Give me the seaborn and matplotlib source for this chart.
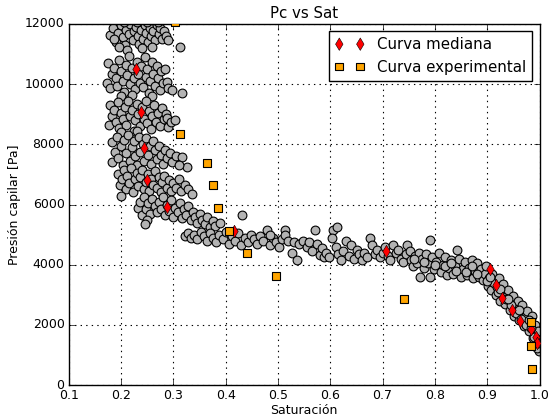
import matplotlib
matplotlib.use("Agg")
import matplotlib.pyplot as plt
import numpy as np
import pandas as pd
import seaborn as sns

# nube de puntos (saturacion, presion capilar) leida por bandas
banda_1 = [(0.178, 11620), (0.185, 11850), (0.19, 11400), (0.195, 11700), (0.2, 11950), (0.203, 11550),
           (0.208, 11300), (0.21, 11800), (0.215, 11650), (0.218, 12000), (0.222, 11450), (0.225, 11750),
           (0.228, 11900), (0.232, 11600), (0.235, 11350), (0.238, 11800), (0.242, 11500), (0.245, 11950),
           (0.248, 11700), (0.252, 11400), (0.255, 11850), (0.258, 11600), (0.262, 11750), (0.265, 11450),
           (0.268, 11950), (0.272, 11650), (0.275, 11850), (0.278, 11500), (0.282, 11750), (0.286, 11600),
           (0.29, 11450), (0.196, 11250), (0.212, 11150), (0.24, 11200), (0.26, 11250), (0.23, 12050),
           (0.25, 12050), (0.205, 12050), (0.27, 12050), (0.187, 11500), (0.313, 11245)]
banda_2 = [(0.175, 10700), (0.173, 10050), (0.179, 9870), (0.182, 10350), (0.186, 10550), (0.19, 10200),
           (0.193, 9950), (0.196, 10800), (0.2, 10450), (0.203, 10100), (0.206, 9750), (0.209, 10650),
           (0.212, 10300), (0.215, 10950), (0.218, 10000), (0.22, 10550), (0.224, 10200), (0.227, 9850),
           (0.23, 10750), (0.233, 10350), (0.236, 10050), (0.239, 10600), (0.242, 9900), (0.245, 10900),
           (0.247, 10250), (0.25, 10500), (0.253, 9700), (0.256, 10100), (0.259, 10750), (0.262, 10350),
           (0.265, 9950), (0.268, 10600), (0.271, 10200), (0.274, 9800), (0.277, 10450), (0.28, 10050),
           (0.284, 10500), (0.288, 10070), (0.29, 9870), (0.298, 9800), (0.317, 9716), (0.22, 9650),
           (0.26, 9600), (0.2, 9600)]
banda_3 = [(0.176, 8640), (0.179, 9300), (0.183, 8950), (0.187, 9150), (0.19, 8750), (0.194, 9400),
           (0.197, 8550), (0.2, 9050), (0.204, 8850), (0.207, 9250), (0.21, 8650), (0.214, 9450),
           (0.217, 8950), (0.22, 9150), (0.224, 8450), (0.227, 8800), (0.23, 9350), (0.233, 9000),
           (0.237, 8600), (0.24, 9250), (0.244, 8850), (0.247, 9450), (0.25, 8700), (0.253, 9100),
           (0.257, 8500), (0.26, 8950), (0.263, 9300), (0.267, 8750), (0.27, 9050), (0.274, 8600),
           (0.278, 9200), (0.282, 8850), (0.285, 9000), (0.288, 8870), (0.29, 8580), (0.296, 8750),
           (0.304, 8800), (0.23, 8450), (0.2, 8400)]
banda_4 = [(0.183, 8080), (0.183, 7410), (0.188, 7750), (0.192, 8250), (0.195, 7550), (0.199, 7950),
           (0.203, 7300), (0.206, 8150), (0.21, 7700), (0.213, 8300), (0.217, 7450), (0.22, 7900),
           (0.224, 8100), (0.227, 7600), (0.23, 7300), (0.234, 8250), (0.237, 7750), (0.241, 8000),
           (0.244, 7450), (0.248, 8200), (0.251, 7650), (0.255, 7950), (0.258, 7350), (0.262, 8100),
           (0.265, 7800), (0.269, 7500), (0.272, 7950), (0.276, 7650), (0.28, 7350), (0.284, 7800),
           (0.288, 7550), (0.293, 7700), (0.298, 7400), (0.305, 7600), (0.317, 7580), (0.327, 7250),
           (0.31, 7300)]
banda_5 = [(0.195, 7000), (0.198, 6650), (0.202, 6850), (0.205, 7150), (0.209, 6500), (0.212, 6950),
           (0.216, 6700), (0.219, 7200), (0.223, 6400), (0.226, 6850), (0.23, 7050), (0.233, 6600),
           (0.237, 6900), (0.24, 7150), (0.244, 6500), (0.247, 6750), (0.251, 7000), (0.254, 6450),
           (0.258, 6850), (0.261, 6650), (0.265, 7100), (0.268, 6550), (0.272, 6900), (0.276, 6400),
           (0.279, 6750), (0.283, 6950), (0.287, 6550), (0.291, 6800), (0.295, 6450), (0.3, 6700),
           (0.305, 6550), (0.31, 6850), (0.315, 6450), (0.322, 6650), (0.328, 6500), (0.335, 6350),
           (0.2, 6300)]
banda_6 = [(0.232, 5900), (0.236, 6100), (0.24, 5650), (0.244, 6250), (0.248, 5850), (0.252, 6050),
           (0.256, 5700), (0.26, 6200), (0.264, 5950), (0.268, 5750), (0.272, 6100), (0.276, 5850),
           (0.28, 6250), (0.284, 5650), (0.288, 6000), (0.292, 5800), (0.296, 6150), (0.3, 5600),
           (0.304, 5900), (0.308, 5750), (0.312, 6050), (0.316, 5550), (0.32, 5850), (0.324, 5650),
           (0.328, 5950), (0.333, 5500), (0.337, 5750), (0.342, 5600), (0.346, 5400), (0.35, 5700),
           (0.355, 5500), (0.36, 5350), (0.365, 5600), (0.37, 5250), (0.375, 5450), (0.38, 5300),
           (0.39, 5400), (0.431, 5650), (0.25, 5500), (0.245, 5350)]
meseta_1 = [(0.322, 4950), (0.328, 5050), (0.334, 4900), (0.34, 5000), (0.346, 4850), (0.352, 5100),
            (0.358, 4950), (0.364, 4800), (0.37, 5050), (0.376, 4900), (0.382, 4750), (0.388, 5000),
            (0.394, 4850), (0.4, 5100), (0.406, 4700), (0.412, 4950), (0.418, 4800), (0.424, 5050),
            (0.43, 4650), (0.436, 4900), (0.442, 4750), (0.448, 5000), (0.454, 4850), (0.46, 4700),
            (0.466, 4950), (0.472, 4800), (0.479, 5150), (0.484, 4650), (0.49, 4900), (0.496, 4750),
            (0.502, 4600), (0.508, 4850)]
meseta_2 = [(0.485, 5000), (0.514, 5150), (0.514, 5000), (0.52, 4800), (0.527, 4390), (0.53, 4750),
            (0.537, 4155), (0.54, 4700), (0.548, 4800), (0.556, 4590), (0.56, 4750), (0.565, 4450),
            (0.571, 5150), (0.575, 4700), (0.58, 4320), (0.585, 4550), (0.587, 4260), (0.592, 4400),
            (0.598, 4250), (0.605, 5150), (0.604, 4900), (0.61, 4600), (0.613, 5250), (0.615, 4350),
            (0.62, 4150), (0.625, 4450), (0.63, 4800), (0.635, 4300), (0.64, 4650), (0.645, 4200),
            (0.651, 4500), (0.655, 4350), (0.66, 4150), (0.665, 4400), (0.67, 4250), (0.676, 4900),
            (0.68, 4650), (0.685, 4350), (0.69, 4500), (0.695, 4250), (0.7, 4400), (0.705, 4600),
            (0.71, 4300), (0.715, 4150), (0.72, 4650), (0.725, 4400), (0.73, 4500), (0.735, 4200),
            (0.739, 4100), (0.747, 4650), (0.745, 4350)]
caida = [(0.752, 4450), (0.755, 4150), (0.758, 3950), (0.762, 4300), (0.766, 4050), (0.77, 4400),
         (0.772, 3590), (0.775, 4200), (0.779, 3900), (0.783, 4350), (0.787, 4050), (0.791, 3590),
         (0.791, 4820), (0.795, 4250), (0.799, 3850), (0.803, 4100), (0.807, 4400), (0.811, 3750),
         (0.815, 4000), (0.819, 4250), (0.823, 3650), (0.827, 3900), (0.831, 4150), (0.835, 3700),
         (0.839, 3950), (0.843, 4490), (0.846, 4200), (0.85, 3600), (0.854, 3850), (0.858, 4100),
         (0.862, 3650), (0.866, 3900), (0.87, 4150), (0.873, 3550), (0.877, 3800), (0.881, 4050),
         (0.885, 3600), (0.888, 3850), (0.892, 3500), (0.895, 3700), (0.898, 3950), (0.901, 3300),
         (0.904, 3550), (0.907, 3150), (0.91, 3700), (0.913, 3400), (0.916, 3000), (0.919, 3250),
         (0.922, 3550), (0.925, 2800), (0.928, 3100), (0.931, 3350), (0.934, 2700), (0.937, 2950),
         (0.94, 3150), (0.943, 2500), (0.946, 2750), (0.949, 2950), (0.952, 2300), (0.955, 2600),
         (0.958, 2800), (0.961, 2150), (0.964, 2400), (0.967, 2650), (0.97, 1950), (0.973, 2250),
         (0.976, 2450), (0.979, 1800), (0.982, 2050), (0.985, 2300), (0.987, 1550), (0.989, 1850),
         (0.991, 2000), (0.993, 1350), (0.995, 1650), (0.997, 1800), (0.998, 1150), (0.999, 1450),
         (0.996, 1250), (0.76, 4200), (0.78, 4100), (0.8, 4000), (0.82, 3950), (0.84, 3800),
         (0.86, 3750), (0.88, 3700), (0.9, 3450), (0.92, 3100), (0.935, 2850), (0.945, 2650),
         (0.955, 2400), (0.965, 2200), (0.975, 2000), (0.983, 1900), (0.99, 1600), (0.997, 1400),
         (0.94, 2850), (0.96, 2500), (0.98, 2150), (0.87, 3950), (0.83, 4050), (0.905, 3600),
         (0.925, 3200)]

# curva mediana
sat_mediana = [0.229, 0.238, 0.244, 0.250, 0.288, 0.416, 0.706, 0.906, 0.917, 0.928, 0.948,
               0.963, 0.983, 0.994, 0.995]
pc_mediana = [10494, 9085, 7868, 6814, 5927, 5119, 4454, 3846, 3324, 2882, 2493,
              2144, 1861, 1605, 1386]

# curva experimental
sat_exp = [0.303, 0.313, 0.365, 0.375, 0.386, 0.407, 0.441, 0.497, 0.741, 0.983, 0.984, 0.986]
pc_exp = [12050, 8343, 7369, 6648, 5873, 5129, 4388, 3623, 2859, 2104, 1296, 542]

nube = pd.DataFrame(banda_1 + banda_2 + banda_3 + banda_4 + banda_5 + banda_6
                    + meseta_1 + meseta_2 + caida, columns=['sat', 'pc'])

plt.style.use('classic')
plt.rcParams['font.size'] = 9
plt.rcParams['axes.titlesize'] = 10.8
plt.rcParams['legend.fontsize'] = 10.8
plt.rcParams['xtick.major.pad'] = 3
plt.rcParams['ytick.major.pad'] = 3

fig, ax = plt.subplots(figsize=(5.5, 4.2), dpi=100)
fig.subplots_adjust(left=0.125, right=0.981, bottom=0.083, top=0.943)

sns.scatterplot(data=nube, x='sat', y='pc', color='0.7', edgecolor='k', linewidth=0.8,
                s=40, ax=ax, legend=False, zorder=2)
sns.scatterplot(x=sat_mediana, y=pc_mediana, marker='d', color='red', edgecolor='k',
                linewidth=0.4, s=40, ax=ax, label='Curva mediana', zorder=3)
sns.scatterplot(x=sat_exp, y=pc_exp, marker='s', color='orange', edgecolor='k',
                linewidth=0.8, s=30, ax=ax, label='Curva experimental', zorder=4)

ax.set_xlim(0.1, 1.0)
ax.set_ylim(0, 12000)
ax.grid(True, color='k', linestyle=':', linewidth=0.8)
ax.set_axisbelow(True)
ax.set_title('Pc vs Sat', pad=4)
ax.set_xlabel('Saturación', labelpad=1)
ax.set_ylabel('Presión capilar [Pa]', labelpad=3)
ax.legend(loc='upper right', scatterpoints=2, scatteryoffsets=[0.5], fancybox=False)

fig.savefig('out.png', dpi=100, facecolor='white')
